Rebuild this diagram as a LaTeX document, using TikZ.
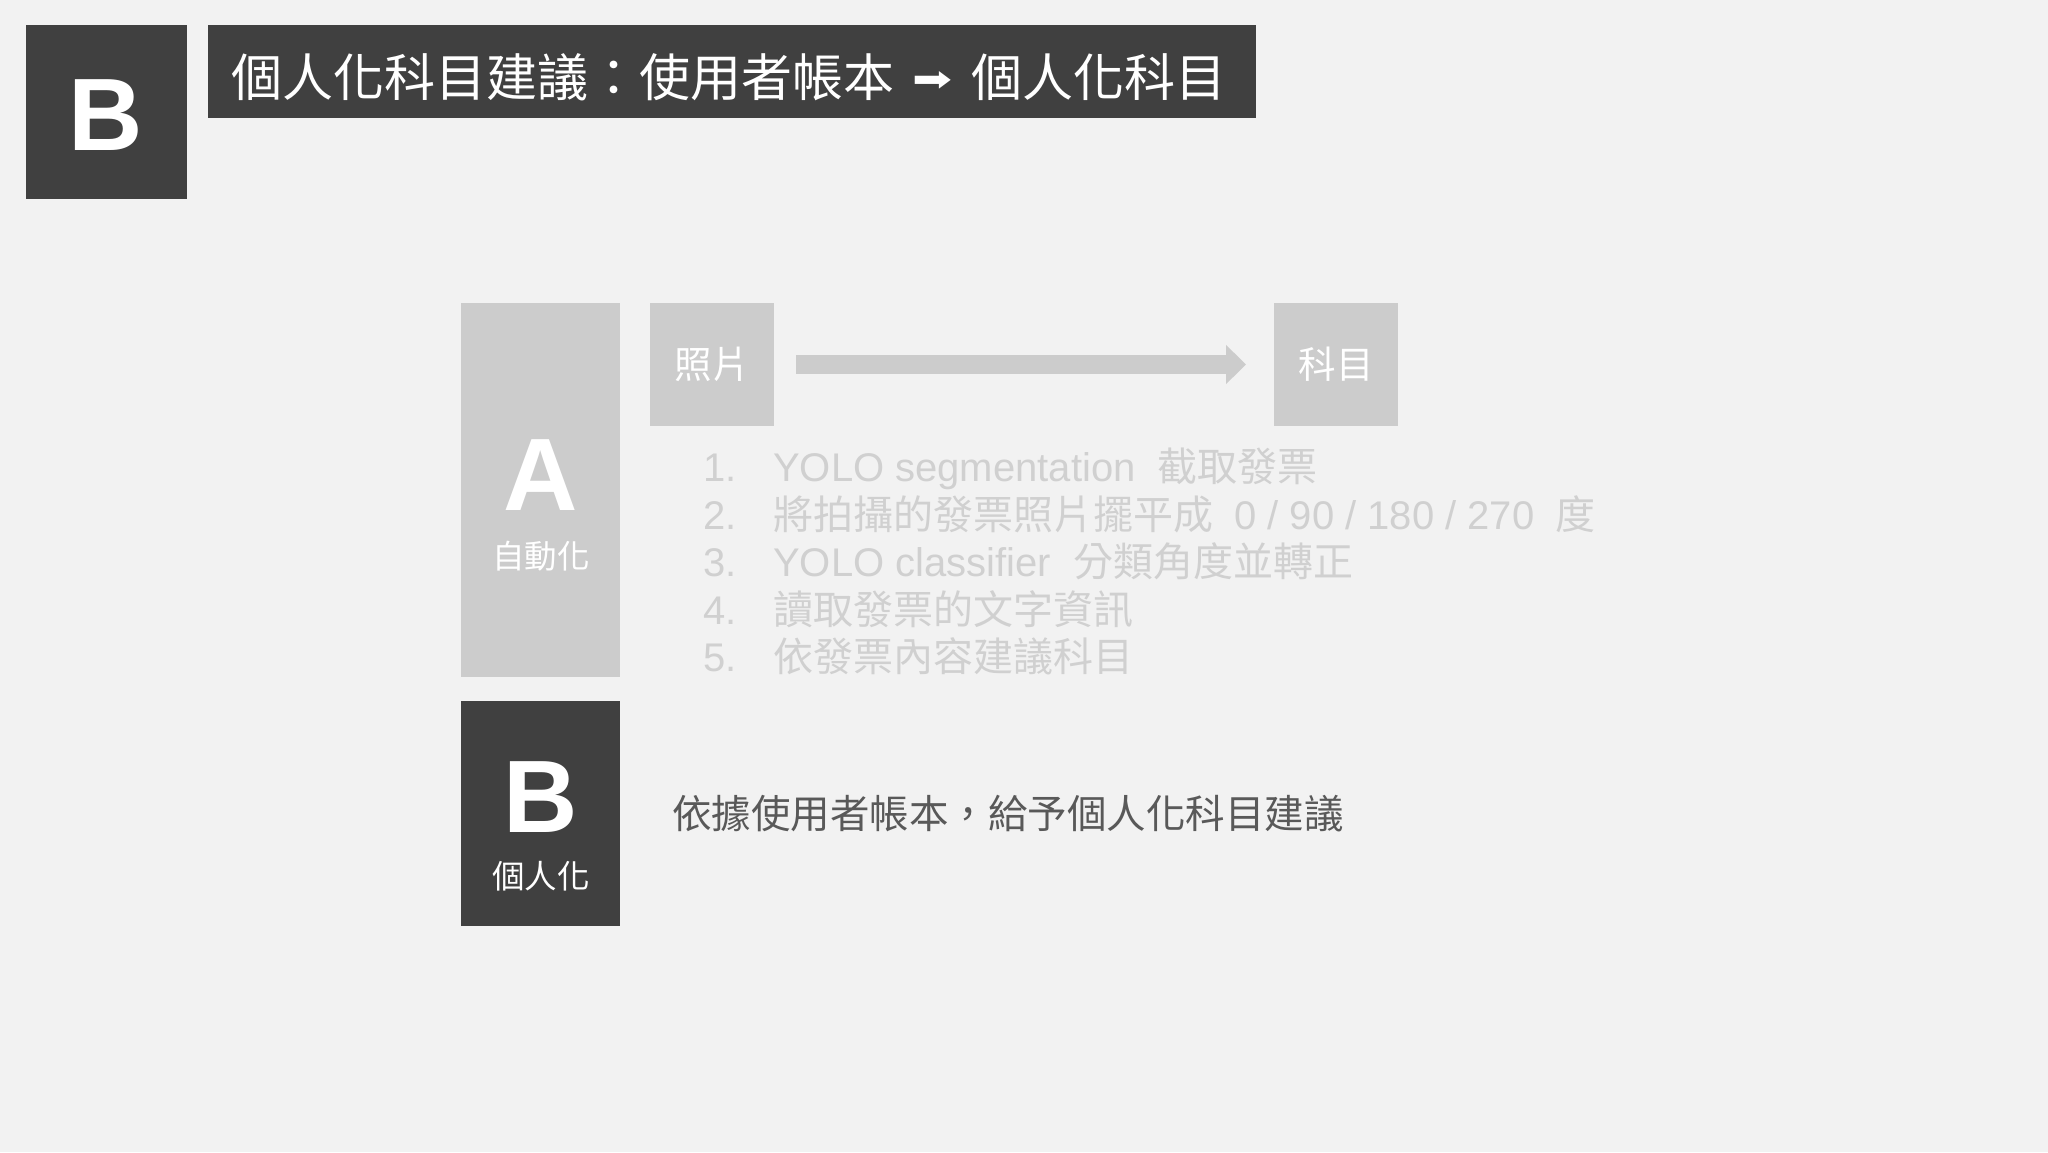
\documentclass[tikz,border=0pt]{standalone}
\usepackage{fontspec}
\usepackage{graphicx}
\setmainfont{Liberation Sans}
\newfontfamily\cjk{Noto Sans CJK TC}
\newfontfamily\lat{Liberation Sans}
\newfontfamily\djv{DejaVu Sans}
\usetikzlibrary{arrows.meta}
\definecolor{bg}{HTML}{F2F2F2}
\definecolor{dark}{HTML}{404040}
\definecolor{light}{HTML}{CCCCCC}
\definecolor{listc}{HTML}{D0D0D0}
\definecolor{subc}{HTML}{595959}
\newcommand{\fsz}[1]{\fontsize{#1}{#1}\selectfont}
\begin{document}
\begin{tikzpicture}[x=1pt,y=-1pt,
  box/.style={inner sep=0pt, outer sep=0pt, anchor=north west},
  darkbox/.style={box, fill=dark},
  lightbox/.style={box, fill=light},
  bigletter/.style={text=white, font=\lat\bfseries\fsz{103}, inner sep=0pt},
  sublabel/.style={text=white, font=\cjk\fsz{32.5}, inner sep=0pt},
  boxlabel/.style={text=white, font=\cjk\fsz{37.5}, inner sep=0pt},
  titletext/.style={anchor=west, text=white, inner sep=0pt, font=\cjk\fsz{51}},
  itemnum/.style={text=listc, inner sep=0pt, anchor=base west, font=\lat\fsz{40}},
  itemtext/.style={text=listc, inner sep=0pt, anchor=base west, font=\lat\fsz{40}},
]
\fill[bg] (0,0) rectangle (2048,1152);
\useasboundingbox (0,0) rectangle (2048,1152);

% header
\node[darkbox, minimum width=161pt, minimum height=174pt] (bigB) at (26,25) {};
\node[bigletter] (bigBt) at (106,115) {B};
\node[darkbox, minimum width=1048pt, minimum height=93pt] (titlebox) at (208,25) {};
\node[titletext] (title1) at (231,77) {個人化科目建議：使用者帳本};
\node[text=white, inner sep=0pt] (titlearrow) at (932,81.5) {\resizebox{40pt}{20pt}{\djv ➡}};
\node[titletext] (title2) at (971,77) {個人化科目};

% A column
\node[lightbox, minimum width=159pt, minimum height=374pt] (Abox) at (461,303) {};
\node[bigletter] (Aletter) at (541,475) {A};
\node[sublabel] (Asub) at (541,556) {自動化};

\node[lightbox, minimum width=124pt, minimum height=123pt] (photo) at (650,303) {};
\node[boxlabel] (photot) at (photo.center) {照片};
\node[lightbox, minimum width=124pt, minimum height=123pt] (subj) at (1274,303) {};
\node[boxlabel] (subjt) at (subj.center) {科目};
\draw[light, line width=19pt, -{Triangle[length=20pt,width=38pt]}]
  ([xshift=22pt]photo.east) -- ([xshift=-28pt]subj.west);

% list
\node[itemnum] (n1) at (703,481) {1.};
\node[itemtext] (t1) at (773,481) {YOLO segmentation\hspace{22pt}{\cjk 截取發票}};
\node[itemnum] (n2) at (703,529) {2.};
\node[itemtext] (t2) at (773,529) {{\cjk 將拍攝的發票照片擺平成}\hspace{21pt}0 / 90 / 180 / 270\hspace{21pt}{\cjk 度}};
\node[itemnum] (n3) at (703,576) {3.};
\node[itemtext] (t3) at (773,576) {YOLO classifier\hspace{22pt}{\cjk 分類角度並轉正}};
\node[itemnum] (n4) at (703,624) {4.};
\node[itemtext] (t4) at (773,624) {{\cjk 讀取發票的文字資訊}};
\node[itemnum] (n5) at (703,671) {5.};
\node[itemtext] (t5) at (773,671) {{\cjk 依發票內容建議科目}};

% B column
\node[darkbox, minimum width=159pt, minimum height=225pt] (Bbox) at (461,701) {};
\node[bigletter] (Bletter) at (541,797) {B};
\node[sublabel] (Bsub) at (541,876) {個人化};
\node[anchor=west, text=subc, inner sep=0pt, font=\cjk\fsz{39.5}] (Btext) at (672,814)
  {依據使用者帳本，給予個人化科目建議};
\end{tikzpicture}
\end{document}
